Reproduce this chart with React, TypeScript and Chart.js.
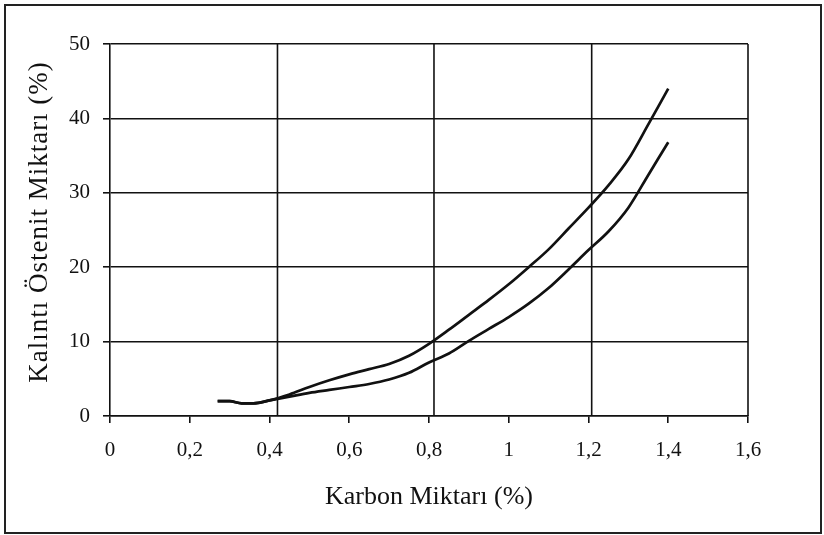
import React, { useEffect, useRef } from "react";
import { Chart, registerables } from "chart.js";

Chart.register(...registerables);

const carbon = [0.27, 0.30, 0.33, 0.36, 0.40, 0.45, 0.50, 0.55, 0.60, 0.65, 0.70, 0.75, 0.80, 0.85, 0.90, 0.95, 1.00, 1.05, 1.10, 1.15, 1.20, 1.25, 1.30, 1.35, 1.40];
const upperAustenite = [2.0, 2.0, 1.7, 1.7, 2.1, 2.9, 3.9, 4.8, 5.6, 6.3, 7.0, 8.1, 9.7, 11.6, 13.6, 15.6, 17.7, 20.0, 22.4, 25.2, 28.0, 31.0, 34.5, 39.2, 44.0];
const lowerAustenite = [2.0, 2.0, 1.7, 1.7, 2.1, 2.6, 3.1, 3.5, 3.9, 4.3, 4.9, 5.8, 7.2, 8.4, 10.1, 11.7, 13.3, 15.1, 17.2, 19.7, 22.3, 24.8, 28.0, 32.4, 36.8];
const xVerticalGrid = [0.42, 0.8125, 1.208, 1.6];

const xTitle = "Karbon Miktarı (%)";
const yTitle = "Kalıntı Östenit Miktarı (%)";

const FONT = "'Liberation Serif', 'Times New Roman', serif";
const INK = "#111";

const vGridPlugin = {
  id: "vGrid",
  beforeDatasetsDraw(chart: any) {
    const { ctx, chartArea, scales } = chart;
    const xs = scales.x;
    ctx.save();
    ctx.strokeStyle = INK;
    ctx.lineWidth = 1.6;
    for (const v of xVerticalGrid) {
      const px = xs.getPixelForValue(v);
      ctx.beginPath();
      ctx.moveTo(px, chartArea.top);
      ctx.lineTo(px, chartArea.bottom);
      ctx.stroke();
    }
    ctx.restore();
  },
};

const yTitlePlugin = {
  id: "yTitleSpaced",
  afterDraw(chart: any) {
    const { ctx } = chart;
    ctx.save();
    ctx.translate(40, 222);
    ctx.rotate(-Math.PI / 2);
    ctx.font = `27px ${FONT}`;
    (ctx as any).letterSpacing = "1px";
    ctx.fillStyle = INK;
    ctx.textAlign = "center";
    ctx.textBaseline = "middle";
    ctx.fillText(yTitle, 0, 0);
    ctx.restore();
  },
};

export default function App() {
  const ref = useRef<HTMLCanvasElement | null>(null);
  useEffect(() => {
    if (!ref.current) return;
    const mk = (vals: number[]) => carbon.map((c, i) => ({ x: c, y: vals[i] }));
    const chart = new Chart(ref.current, {
      type: "line",
      data: {
        datasets: [
          {
            label: "upper",
            data: mk(upperAustenite),
            borderColor: INK,
            borderWidth: 2.7,
            pointRadius: 0,
            cubicInterpolationMode: "monotone",
            fill: false,
          },
          {
            label: "lower",
            data: mk(lowerAustenite),
            borderColor: INK,
            borderWidth: 2.7,
            pointRadius: 0,
            cubicInterpolationMode: "monotone",
            fill: false,
          },
        ],
      },
      options: {
        responsive: false,
        animation: false,
        layout: { padding: { left: 20, top: 44, right: 76, bottom: 22 } },
        plugins: { legend: { display: false }, tooltip: { enabled: false } },
        scales: {
          x: {
            type: "linear",
            min: 0,
            max: 1.6,
            ticks: {
              stepSize: 0.2,
              color: INK,
              padding: 15,
              maxRotation: 0,
              font: { family: FONT, size: 21 },
              callback: (v: any) => String(+Number(v).toFixed(1)).replace(".", ","),
            },
            grid: { drawOnChartArea: false, drawTicks: true, tickLength: 7, color: INK, lineWidth: 1.6 },
            border: { display: true, color: INK, width: 1.6 },
            title: { display: true, text: xTitle, color: INK, font: { family: FONT, size: 26 }, padding: { top: 0, bottom: 0 } },
            afterFit: (s: any) => { s.height = 535 - 416 - 22; },
          },
          y: {
            min: 0,
            max: 50,
            ticks: {
              stepSize: 10,
              color: INK,
              padding: 13,
              font: { family: FONT, size: 21 },
            },
            grid: { drawOnChartArea: true, drawTicks: true, tickLength: 7, color: INK, lineWidth: 1.6 },
            border: { display: true, color: INK, width: 1.6 },
            title: { display: false, text: yTitle },
            afterFit: (s: any) => { s.width = 110 - 20; },
          },
        },
      },
      plugins: [vGridPlugin, yTitlePlugin],
    });
    return () => chart.destroy();
  }, []);

  return (
    <div style={{ position: "absolute", left: 0, top: 0, width: 824, height: 535, background: "#fff" }}>
      <canvas ref={ref} width={824} height={535} style={{ display: "block", width: 824, height: 535 }} />
      <div
        style={{
          position: "absolute",
          left: 4,
          top: 4,
          width: 818,
          height: 530,
          boxSizing: "border-box",
          border: "2px solid #222",
          pointerEvents: "none",
        }}
      />
    </div>
  );
}
